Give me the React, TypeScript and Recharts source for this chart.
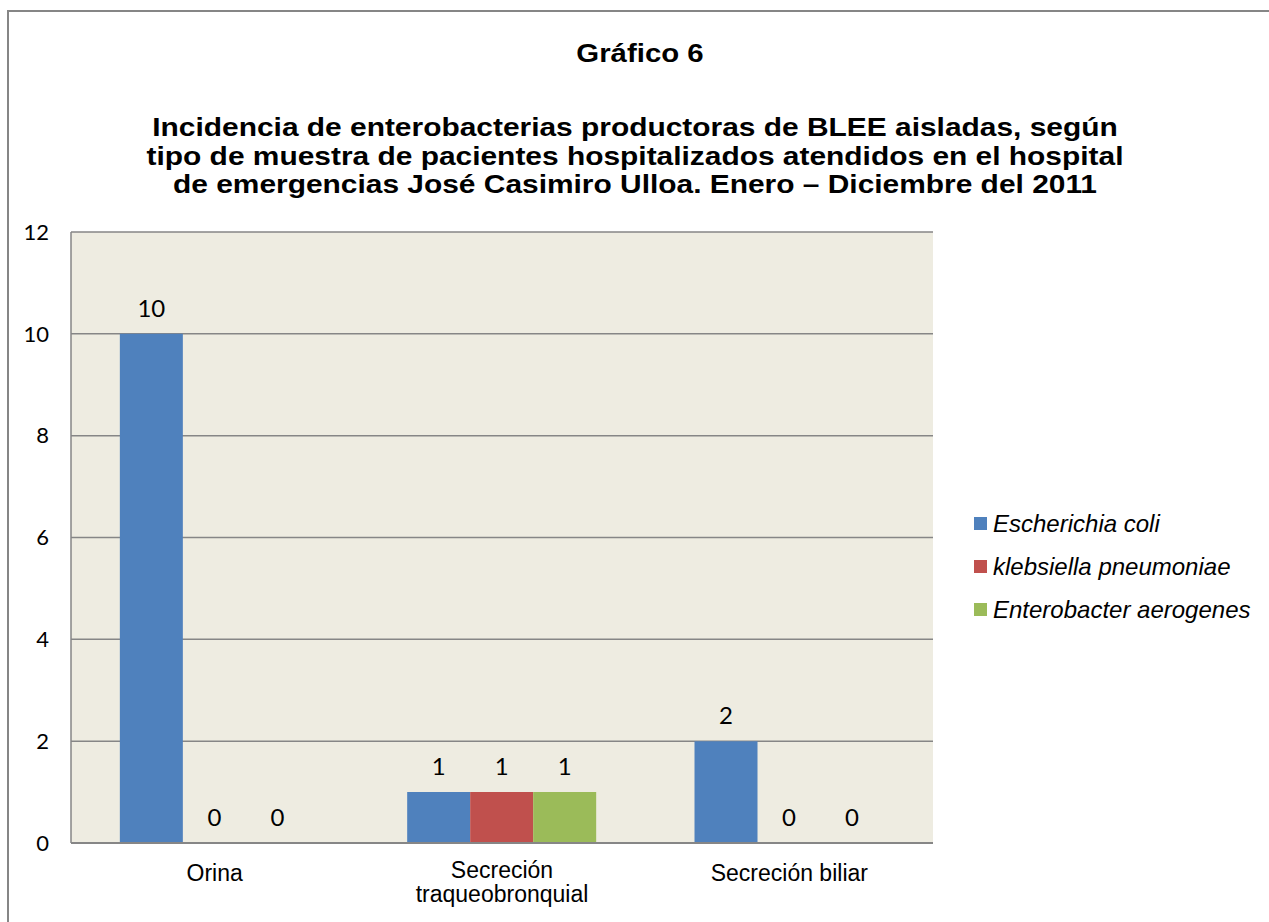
import React from "react";
import {
  BarChart,
  Bar,
  XAxis,
  YAxis,
  CartesianGrid,
  LabelList,
} from "recharts";

const categories = ["Orina", "Secreción traqueobronquial", "Secreción biliar"];
const seriesNames = ["Escherichia coli", "klebsiella pneumoniae", "Enterobacter aerogenes"];
const ecoli = [10, 1, 2];
const klebsiella = [0, 1, 0];
const enterobacter = [0, 1, 0];
const yTicks = [0, 2, 4, 6, 8, 10, 12];

const colors = ["#4F81BD", "#C0504D", "#9BBB59"];
const keys = ["ecoli", "klebsiella", "enterobacter"];

const data = categories.map((name, i) => ({
  name,
  ecoli: ecoli[i],
  klebsiella: klebsiella[i],
  enterobacter: enterobacter[i],
}));

const gridGray = "#868686";
const numFont = "Lato, 'Liberation Sans', sans-serif";
const textFont = "'Liberation Sans', Arial, sans-serif";

// long category names wrap after the first word, like Excel does
const CategoryTick = (props: any) => {
  const { x, y, payload } = props;
  const label: string = payload.value;
  const sp = label.indexOf(" ");
  const lines =
    label.length > 20 && sp > 0 ? [label.slice(0, sp), label.slice(sp + 1)] : [label];
  const top = lines.length > 1 ? y - 3 : y;
  return (
    <text
      x={x}
      y={top}
      textAnchor="middle"
      style={{ fontFamily: textFont, fontSize: 23, fill: "#000" }}
    >
      {lines.map((l, i) => (
        <tspan key={i} x={x} dy={i === 0 ? "0.71em" : 24}>
          {l}
        </tspan>
      ))}
    </text>
  );
};

// keep zero bars in the layout so their "0" labels still get drawn
const zeroSize = (v: any) => (v === 0 ? 0.01 : 0);

export default function App() {
  return (
    <div
      style={{
        position: "absolute",
        left: 0,
        top: 0,
        width: 1269,
        height: 922,
        overflow: "hidden",
        background: "#fff",
      }}
    >
      {/* chart frame, only left and top edges fall inside the picture */}
      <div
        style={{
          position: "absolute",
          left: 7,
          top: 10,
          width: 1400,
          height: 1000,
          borderLeft: `2px solid ${gridGray}`,
          borderTop: `2px solid ${gridGray}`,
        }}
      />
      <div
        style={{
          position: "absolute",
          left: 5,
          width: 1270,
          top: 38,
          textAlign: "center",
          fontFamily: textFont,
          fontWeight: "bold",
          fontSize: 26,
          lineHeight: "30px",
          transform: "scaleX(1.13)",
        }}
      >
        Gráfico 6
      </div>
      <div
        style={{
          position: "absolute",
          left: 0,
          width: 1270,
          top: 113,
          textAlign: "center",
          fontFamily: textFont,
          fontWeight: "bold",
          fontSize: 26,
          lineHeight: "28.5px",
          transform: "scaleX(1.15)",
          whiteSpace: "nowrap",
        }}
      >
        Incidencia de enterobacterias productoras de BLEE aisladas, según
        <br />
        tipo de muestra de pacientes hospitalizados atendidos en el hospital
        <br />
        de emergencias José Casimiro Ulloa. Enero – Diciembre del 2011
      </div>

      <div style={{ position: "absolute", left: 0, top: 0 }}>
        <BarChart
          width={1269}
          height={922}
          data={data}
          margin={{ top: 232, right: 336, bottom: 0, left: 0 }}
          barCategoryGap="17%"
          barGap={0}
        >
          <CartesianGrid
            vertical={false}
            stroke={gridGray}
            strokeWidth={1.5}
            fill="#EEECE1"
            fillOpacity={1}
          />
          <XAxis
            dataKey="name"
            height={79}
            tickSize={0}
            tickMargin={22}
            axisLine={{ stroke: gridGray, strokeWidth: 2 }}
            tickLine={false}
            tick={(p: any) => <CategoryTick {...p} />}
            interval={0}
          />
          <YAxis
            width={71}
            domain={[0, 12]}
            ticks={yTicks}
            tickSize={0}
            tickMargin={22}
            tickLine={false}
            axisLine={{ stroke: gridGray, strokeWidth: 1.5 }}
            tick={{ fontFamily: numFont, fontSize: 22, fill: "#000" }}
          />
          {keys.map((k, i) => (
            <Bar
              key={k}
              dataKey={k}
              name={seriesNames[i]}
              fill={colors[i]}
              minPointSize={zeroSize}
              isAnimationActive={false}
            >
              <LabelList
                dataKey={k}
                position="top"
                offset={17}
                style={{ fontFamily: numFont, fontSize: 24, fill: "#000" }}
              />
            </Bar>
          ))}
        </BarChart>
      </div>

      {/* legend */}
      <div style={{ position: "absolute", left: 974, top: 502 }}>
        {seriesNames.map((n, i) => (
          <div
            key={n}
            style={{ display: "flex", alignItems: "center", height: 43 }}
          >
            <span
              style={{
                width: 13,
                height: 13,
                background: colors[i],
                display: "inline-block",
                marginRight: 6,
              }}
            />
            <span
              style={{
                fontFamily: textFont,
                fontStyle: "italic",
                fontSize: 24,
              }}
            >
              {n}
            </span>
          </div>
        ))}
      </div>
    </div>
  );
}
